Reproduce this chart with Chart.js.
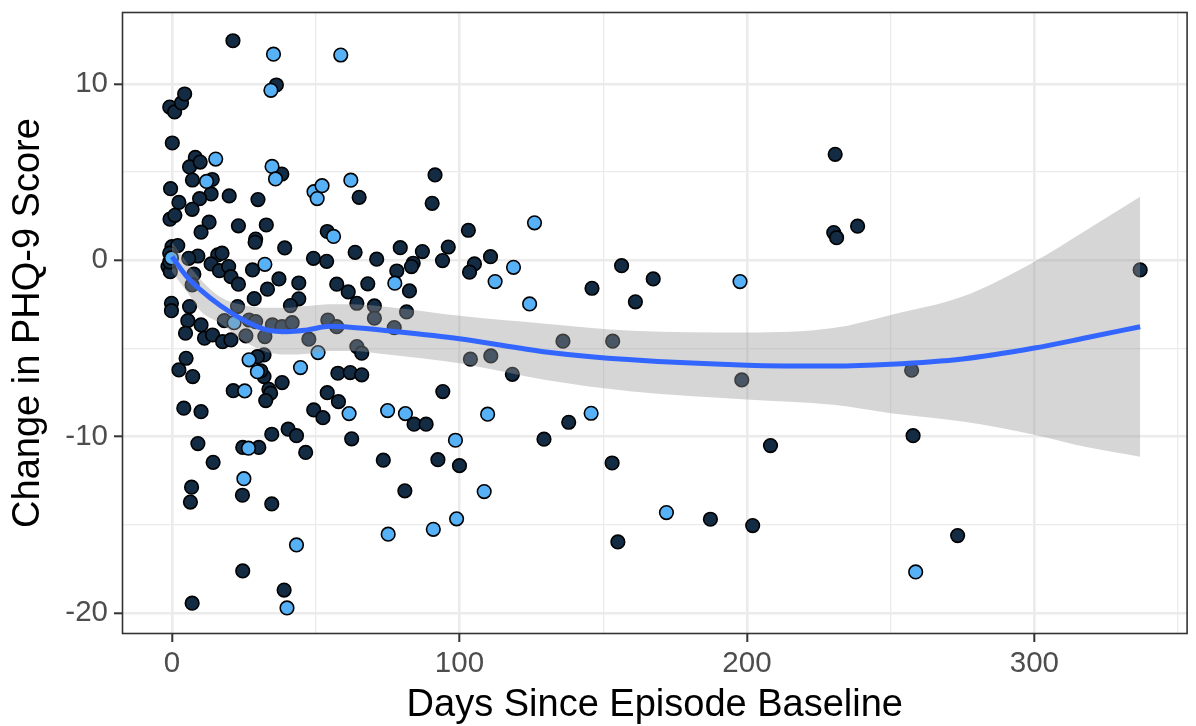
<!DOCTYPE html>
<html>
<head>
<meta charset="utf-8">
<script src="https://cdn.jsdelivr.net/npm/chart.js@4.4.1/dist/chart.umd.min.js"></script>
<style>
  html, body { margin: 0; padding: 0; background: #ffffff; }
  #wrap { width: 1196px; height: 726px; position: relative; }
</style>
</head>
<body>
<div id="wrap"><canvas id="c" width="1196" height="726"></canvas></div>
<script>
// ---- data ----
const darkDays = [21.2,36.3,-0.8,0.9,3.3,4.4,0.1,8.1,6.1,9.8,7.1,14.0,-0.5,13.6,2.4,9.6,19.9,29.9,7.0,-0.7,1.0,12.9,23.1,38.2,65.1,91.5,90.5,54.0,63.7,49.2,53.8,71.2,79.4,87.1,96.1,94.1,103.1,110.8,105.2,103.5,83.9,83.3,78.2,82.6,57.3,61.3,68.1,64.3,70.4,70.4,81.6,44.1,44.1,29.1,28.9,10.1,32.8,39.2,0.0,2.0,-0.8,-1.4,-0.6,-0.8,9.0,5.8,15.9,17.4,13.6,16.5,19.7,20.5,23.1,28.0,33.2,37.2,41.2,28.6,7.6,7.0,-0.2,-0.2,6.1,22.8,5.5,10.1,18.2,26.8,29.1,34.9,38.3,41.8,54.2,57.3,77.3,47.6,64.3,32.3,66.0,32.0,4.7,11.3,14.1,17.6,20.5,25.7,4.9,2.4,7.2,29.7,32.0,33.7,34.3,32.6,38.3,21.3,4.1,10.1,49.3,34.7,40.4,43.3,9.0,24.6,30.2,46.5,14.3,6.8,6.4,24.5,34.7,24.6,39.0,7.0,57.7,62.0,66.0,30.9,54.0,57.9,52.5,84.2,88.4,94.2,103.8,110.9,118.4,62.5,73.5,92.5,100.0,129.4,81.0,146.1,156.4,167.4,161.2,136.0,153.3,198.2,138.0,153.1,208.2,187.3,202.0,155.1,230.7,230.2,231.2,238.5,336.8,257.3,257.8,273.3];
const darkChange = [12.45,9.94,8.69,8.41,8.92,9.43,6.65,5.83,5.29,5.57,4.55,4.58,4.06,3.76,3.28,3.49,3.65,3.44,2.89,2.33,2.55,2.16,1.95,4.89,3.57,4.84,3.23,1.63,0.45,0.11,-0.06,0.06,0.71,0.49,0.75,-0.02,1.70,0.20,-0.21,-0.68,-0.17,-0.36,-0.61,-1.74,-1.36,-1.80,-1.34,-2.44,-2.59,-3.29,-2.93,-1.29,-2.19,1.20,1.02,1.59,2.00,0.70,0.77,0.83,0.40,-0.36,-0.65,-0.10,0.24,0.11,0.30,0.40,-0.21,-0.59,-0.36,-0.93,-1.36,-0.55,-1.64,-1.06,-2.57,-2.18,-0.79,-1.40,-2.44,-2.86,-2.63,-2.63,-3.43,-3.67,-3.43,-3.39,-3.48,-3.67,-3.77,-3.54,-3.39,-3.77,-3.82,-4.48,-4.90,-4.33,-5.27,-5.37,-4.14,-4.42,-4.24,-4.62,-4.52,-4.29,-5.56,-6.22,-6.60,-5.47,-6.60,-7.32,-7.54,-7.96,-6.94,-7.40,-8.39,-8.59,-8.49,-9.87,-9.58,-9.95,-10.40,-10.62,-10.62,-10.90,-11.46,-12.87,-13.72,-13.33,-13.82,-17.62,-18.71,-19.45,-6.41,-6.37,-6.50,-6.28,-7.51,-8.02,-8.93,-9.30,-9.30,-7.45,-5.61,-5.43,-6.47,-10.13,-11.34,-11.31,-11.65,-10.15,-13.08,-1.59,-0.31,-1.06,-2.36,-4.59,-4.59,-6.79,-9.19,-11.50,-10.51,-14.69,-15.05,-15.98,6.01,1.57,1.28,1.93,-0.55,-6.24,-9.95,-15.62];

const lightDays = [35.3,34.4,15.2,12.0,34.8,36.0,49.4,50.5,52.2,62.2,58.7,56.2,126.1,118.8,112.4,124.4,32.3,77.5,197.6,21.6,26.8,29.7,25.3,44.7,50.8,61.6,75.0,81.2,109.8,98.6,25.0,43.3,40.0,108.6,75.2,90.9,99.0,145.8,172.0,258.7,26.6,-0.2];
const lightChange = [11.69,9.64,5.74,4.47,5.32,4.61,3.89,3.50,4.23,4.54,11.64,1.35,2.12,-0.40,-1.21,-2.48,-0.23,-1.30,-1.21,-3.54,-5.65,-6.32,-7.41,-6.09,-5.24,-8.70,-8.53,-8.70,-8.73,-10.21,-12.39,-16.15,-19.72,-13.12,-15.54,-15.26,-14.67,-8.68,-14.31,-17.68,-10.66,0.13];

const smoothDays = [0,5,10,17,25,33,40,47,55,62,75,100,130,160,200,230,250,275,300,318,336.8];
const smoothFit  = [0.2,-0.9,-1.7,-2.6,-3.4,-3.95,-4.05,-3.95,-3.75,-3.8,-4.0,-4.45,-5.2,-5.65,-5.95,-6.0,-5.9,-5.6,-4.98,-4.4,-3.77];
const bandHigh   = [1.0,-0.1,-1.1,-2.1,-2.55,-2.7,-2.7,-2.6,-2.5,-2.5,-2.65,-3.15,-3.6,-4.0,-4.1,-3.85,-3.1,-2.06,-0.08,1.7,3.6];
const bandLow    = [-0.65,-1.75,-2.9,-3.6,-4.6,-5.2,-5.35,-5.3,-5.15,-5.15,-5.35,-5.85,-6.8,-7.45,-7.9,-8.2,-8.68,-9.15,-9.9,-10.6,-11.14];

const xMajorTicks = [0,100,200,300];
const xMinorTicks = [50,150,250,350];
const yMajorTicks = [-20,-10,0,10];
const yMinorTicks = [-15,-5,5];
const xTickLabels = ['0','100','200','300'];
const yTickLabels = ['-20','-10','0','10'];
const xTitle = 'Days Since Episode Baseline';
const yTitle = 'Change in PHQ-9 Score';

// ---- build ----
const zip = (xs, ys) => xs.map((x, i) => ({x: x, y: ys[i]}));
const isMajor = (v, majors) => majors.some(m => Math.abs(m - v) < 1e-9);

const panelBorder = {
  id: 'panelBorder',
  afterDraw(chart) {
    const {ctx, chartArea: a} = chart;
    ctx.save();
    ctx.strokeStyle = '#333333';
    ctx.lineWidth = 1.6;
    ctx.strokeRect(a.left + 0.5, a.top + 0.5, a.right - a.left - 1, a.bottom - a.top - 1);
    ctx.restore();
  }
};

const tickFont = {family: '"Liberation Sans", Arial, sans-serif', size: 29.5};
const titleFont = {family: '"Liberation Sans", Arial, sans-serif', size: 38, lineHeight: 1};

new Chart(document.getElementById('c'), {
  type: 'scatter',
  data: {
    datasets: [
      {
        type: 'line', label: 'fit', data: zip(smoothDays, smoothFit),
        borderColor: '#3366FF', borderWidth: 5, pointRadius: 0, fill: false,
        cubicInterpolationMode: 'monotone', order: 0
      },
      {
        type: 'line', label: 'upper', data: zip(smoothDays, bandHigh),
        borderWidth: 0, borderColor: 'rgba(0,0,0,0)', pointRadius: 0,
        backgroundColor: 'rgba(153,153,153,0.4)', fill: '+1',
        cubicInterpolationMode: 'monotone', order: 1
      },
      {
        type: 'line', label: 'lower', data: zip(smoothDays, bandLow),
        borderWidth: 0, borderColor: 'rgba(0,0,0,0)', pointRadius: 0, fill: false,
        cubicInterpolationMode: 'monotone', order: 2
      },
      {
        label: 'light', data: zip(lightDays, lightChange),
        backgroundColor: '#56B1F7', borderColor: '#000000', borderWidth: 1.6,
        pointRadius: 6.8, pointHoverRadius: 6.8, order: 3
      },
      {
        label: 'dark', data: zip(darkDays, darkChange),
        backgroundColor: '#132B43', borderColor: '#000000', borderWidth: 1.6,
        pointRadius: 6.8, pointHoverRadius: 6.8, order: 4
      }
    ]
  },
  options: {
    responsive: false,
    animation: false,
    devicePixelRatio: 1,
    layout: {padding: {top: 12, right: 1, left: 0, bottom: 0}},
    plugins: {legend: {display: false}, tooltip: {enabled: false}},
    scales: {
      x: {
        type: 'linear', min: -17.4, max: 353.3,
        afterBuildTicks: (s) => { s.ticks = xMajorTicks.concat(xMinorTicks).sort((a,b)=>a-b).map(v => ({value: v})); },
        afterFit: (s) => { s.height = 92; s.paddingLeft = 0; s.paddingRight = 0; },
        ticks: {
          font: tickFont, color: '#4D4D4D', padding: 4, maxRotation: 0, autoSkip: false,
          callback: (v) => { const i = xMajorTicks.indexOf(v); return i >= 0 ? xTickLabels[i] : ''; }
        },
        grid: {
          color: '#EBEBEB',
          lineWidth: (c) => isMajor(c.tick.value, xMajorTicks) ? 2.6 : 1.3,
          tickColor: (c) => isMajor(c.tick.value, xMajorTicks) ? '#333333' : 'rgba(0,0,0,0)',
          tickWidth: 2, tickLength: 8, drawTicks: true
        },
        border: {display: false},
        title: {display: true, text: xTitle, font: titleFont, color: '#000000', padding: {top: 0, bottom: 1}}
      },
      y: {
        type: 'linear', min: -21.2, max: 14.08,
        afterBuildTicks: (s) => { s.ticks = yMajorTicks.concat(yMinorTicks).sort((a,b)=>a-b).map(v => ({value: v})); },
        afterFit: (s) => { s.width = 122; s.paddingTop = 0; s.paddingBottom = 0; },
        ticks: {
          font: tickFont, color: '#4D4D4D', padding: 6, autoSkip: false,
          callback: (v) => { const i = yMajorTicks.indexOf(v); return i >= 0 ? yTickLabels[i] : ''; }
        },
        grid: {
          color: '#EBEBEB',
          lineWidth: (c) => isMajor(c.tick.value, yMajorTicks) ? 2.6 : 1.3,
          tickColor: (c) => isMajor(c.tick.value, yMajorTicks) ? '#333333' : 'rgba(0,0,0,0)',
          tickWidth: 2, tickLength: 8, drawTicks: true
        },
        border: {display: false},
        title: {display: true, text: yTitle, font: titleFont, color: '#000000', padding: {top: 10, bottom: 0}}
      }
    }
  },
  plugins: [panelBorder]
});
</script>
</body>
</html>
